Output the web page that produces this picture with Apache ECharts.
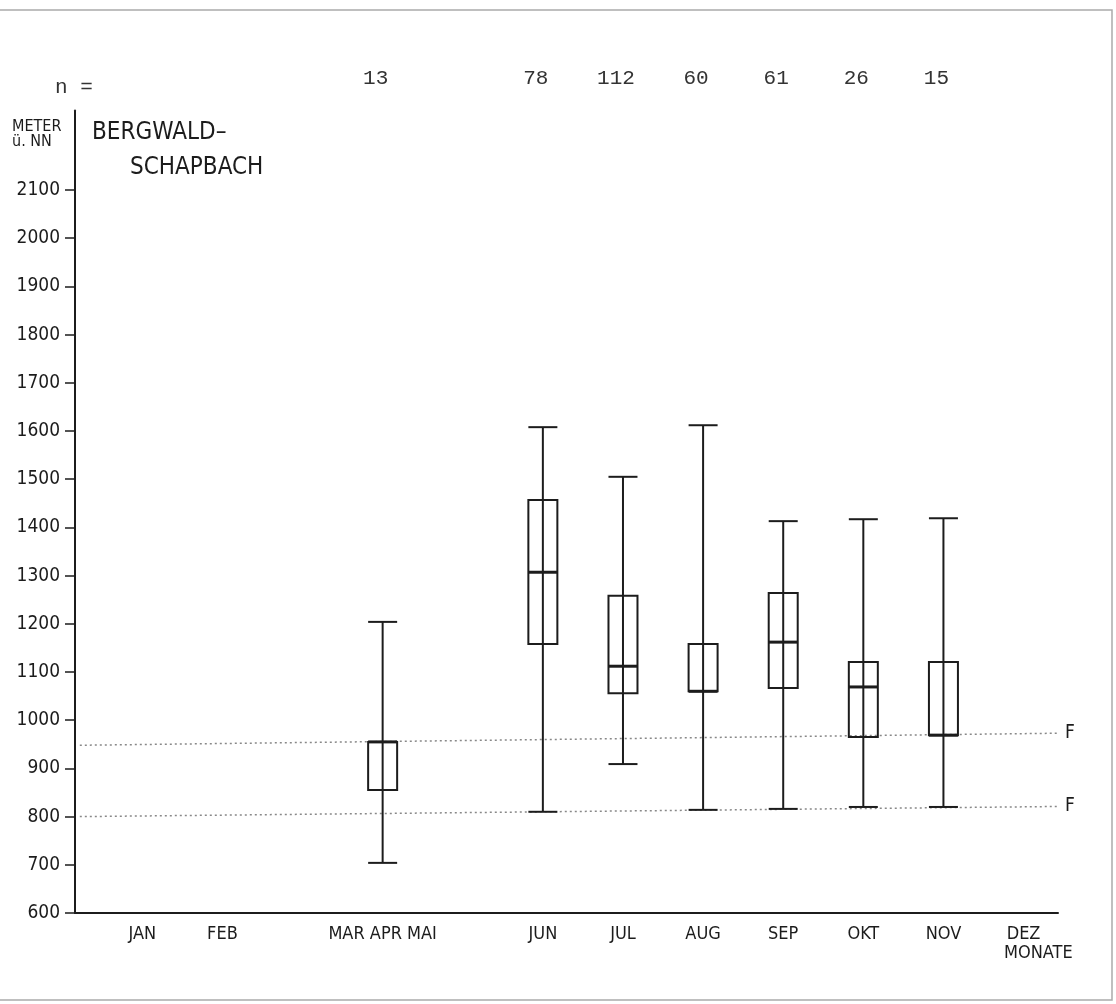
<!DOCTYPE html>
<html><head><meta charset="utf-8">
<script src="https://cdn.jsdelivr.net/npm/echarts@6/dist/echarts.min.js"></script>
<style>html,body{margin:0;padding:0;background:#fff}#c{width:1116px;height:1004px}</style>
</head><body><div id="c"></div>
<script>
// ---- data ----
const monthNums   = [1, 2, 4, 6, 7, 8, 9, 10, 11, 12];
const monthLabels = ['JAN', 'FEB', 'MAR APR MAI', 'JUN', 'JUL', 'AUG', 'SEP', 'OKT', 'NOV', 'DEZ'];
const boxMonths   = [4, 6, 7, 8, 9, 10, 11];
const nCounts     = [13, 78, 112, 60, 61, 26, 15];
const whiskerLow  = [704, 810, 909, 814, 816, 820, 820];
const q1          = [855, 1158, 1056, 1060, 1067, 965, 969];
const medians     = [955, 1307, 1112, 1060, 1162, 1069, 969];
const q3          = [955, 1457, 1258, 1158, 1264, 1121, 1121];
const whiskerHigh = [1204, 1608, 1505, 1612, 1413, 1417, 1419];
const yTicks      = [600, 700, 800, 900, 1000, 1100, 1200, 1300, 1400, 1500, 1600, 1700, 1800, 1900, 2000, 2100];
const upperF      = [[0.22, 948], [12.43, 973]];
const lowerF      = [[0.22, 800], [12.43, 821]];

const NARROW = "'Liberation Sans Narrow', 'DejaVu Sans Condensed', 'Roboto Condensed', sans-serif";
const MONO = "'Liberation Mono', 'DejaVu Sans Mono', monospace";
const INK = '#1c1c1c';

const boxData = boxMonths.map((m, i) => [m, whiskerLow[i], q1[i], medians[i], q3[i], whiskerHigh[i]]);

const chart = echarts.init(document.getElementById('c'), null, {renderer: 'canvas'});
chart.setOption({
  animation: false,
  backgroundColor: '#fff',
  grid: {left: 75, right: 58, top: 110.5, bottom: 91, containLabel: false, outerBoundsMode: 'none'},
  xAxis: [{
    type: 'value', position: 'bottom', min: 0.16, max: 12.43,
    axisLine: {show: true, onZero: false, lineStyle: {color: INK, width: 2}},
    axisTick: {show: false},
    splitLine: {show: false},
    axisLabel: {
      customValues: monthNums, margin: 12, color: INK, fontFamily: NARROW, fontSize: 18,
      formatter: v => monthLabels[monthNums.indexOf(v)]
    },
    name: 'MONATE', nameLocation: 'end', nameGap: -54,
    nameTextStyle: {align: 'left', verticalAlign: 'top', padding: [31, 0, 0, 0], fontFamily: NARROW, fontSize: 18, color: INK}
  }, {
    type: 'value', position: 'top', min: 0.16, max: 12.43,
    axisLine: {show: false}, axisTick: {show: false}, splitLine: {show: false},
    axisLabel: {
      customValues: boxMonths, margin: 22, color: '#333', fontFamily: MONO, fontSize: 21,
      padding: [0, 14, 0, 0],
      formatter: v => String(nCounts[boxMonths.indexOf(v)])
    }
  }],
  yAxis: {
    type: 'value', min: 600, max: 2265, interval: 100,
    axisLine: {show: true, lineStyle: {color: INK, width: 2}},
    axisTick: {show: true, customValues: yTicks, length: 10, lineStyle: {color: INK, width: 1.5}},
    axisLabel: {customValues: yTicks, margin: 15, color: INK, fontFamily: NARROW, fontSize: 19, formatter: v => String(v)},
    splitLine: {show: false}
  },
  graphic: [
    {type: 'rect', shape: {x: -3, y: 10, width: 1115, height: 990}, style: {stroke: '#aaa', lineWidth: 1.5, fill: 'none'}, silent: true},
    {type: 'text', left: 55, top: 77, style: {text: 'n =', font: '21px ' + MONO, fill: '#333'}},
    {type: 'text', left: 12, top: 119, style: {text: 'METER\nü. NN', font: '16px ' + NARROW, fill: INK, lineHeight: 15}},
    {type: 'text', left: 92, top: 121, style: {text: 'BERGWALD\u2013', font: '24px ' + NARROW, fill: INK}},
    {type: 'text', left: 130, top: 156, style: {text: 'SCHAPBACH', font: '24px ' + NARROW, fill: INK}}
  ],
  series: [{
    type: 'line', data: upperF, showSymbol: false, silent: true, z: 1,
    lineStyle: {type: [2, 3], color: '#888', width: 1.5},
    endLabel: {show: true, formatter: 'F', fontFamily: NARROW, fontSize: 19, color: INK, distance: 7}
  }, {
    type: 'line', data: lowerF, showSymbol: false, silent: true, z: 1,
    lineStyle: {type: [2, 3], color: '#888', width: 1.5},
    endLabel: {show: true, formatter: 'F', fontFamily: NARROW, fontSize: 19, color: INK, distance: 7}
  }, {
    type: 'custom', data: boxData, z: 3,
    renderItem: (params, api) => {
      const x = api.value(0);
      const lo = api.coord([x, api.value(1)]);
      const a = api.coord([x, api.value(2)]);
      const m = api.coord([x, api.value(3)]);
      const b = api.coord([x, api.value(4)]);
      const hi = api.coord([x, api.value(5)]);
      const hw = 14.5;
      const st = {stroke: INK, lineWidth: 2, fill: null};
      return {type: 'group', children: [
        {type: 'line', shape: {x1: lo[0], y1: lo[1], x2: hi[0], y2: hi[1]}, style: st},
        {type: 'line', shape: {x1: lo[0] - hw, y1: lo[1], x2: lo[0] + hw, y2: lo[1]}, style: st},
        {type: 'line', shape: {x1: hi[0] - hw, y1: hi[1], x2: hi[0] + hw, y2: hi[1]}, style: st},
        {type: 'rect', shape: {x: a[0] - hw, y: b[1], width: 2 * hw, height: a[1] - b[1]}, style: {stroke: INK, lineWidth: 2, fill: 'none'}},
        {type: 'line', shape: {x1: m[0] - hw, y1: m[1], x2: m[0] + hw, y2: m[1]}, style: {stroke: INK, lineWidth: 3}}
      ]};
    }
  }]
});
</script>
</body></html>
